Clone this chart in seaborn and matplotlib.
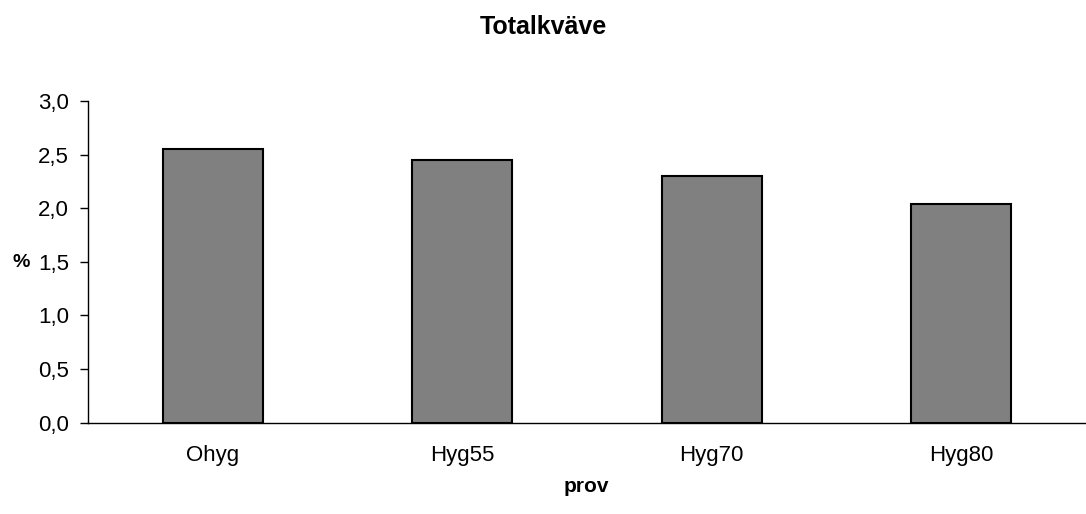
import matplotlib
matplotlib.use("Agg")
import matplotlib.pyplot as plt
import seaborn as sns
import pandas as pd
import numpy as np
from matplotlib.ticker import FuncFormatter, FixedLocator

sns.set_style("white")
plt.rcParams['font.family'] = ['Liberation Sans', 'DejaVu Sans']
plt.rcParams['text.color'] = 'black'
plt.rcParams['xtick.color'] = 'black'
plt.rcParams['ytick.color'] = 'black'

prov = ["Ohyg", "Hyg55", "Hyg70", "Hyg80"]
totalkvave = [2.55, 2.45, 2.30, 2.04]
y_ticks = [0.0, 0.5, 1.0, 1.5, 2.0, 2.5, 3.0]

df = pd.DataFrame({"prov": prov, "varde": totalkvave})

fig = plt.figure(figsize=(10.86, 5.14), dpi=100)
ax = fig.add_axes([0.081, 0.1776, 0.919, 0.626])

sns.barplot(data=df, x="prov", y="varde", ax=ax, color="#808080",
            saturation=1, width=0.4, edgecolor="black", linewidth=1.5)

ax.set_xlim(-0.5, len(prov) - 0.5)
ax.set_ylim(0, 3.0)
ax.set_yticks(y_ticks)
ax.yaxis.set_major_formatter(FuncFormatter(lambda v, p: f"{v:.1f}".replace(".", ",")))

# tick marks sit between the categories, labels at the category centres
ax.xaxis.set_minor_locator(FixedLocator(np.arange(-0.5, len(prov), 1.0)))
ax.tick_params(axis="x", which="major", length=0, labelsize=16, pad=16)
ax.tick_params(axis="x", which="minor", length=5.5, width=1, color="black", direction="out")
ax.tick_params(axis="y", which="major", length=5.5, width=1, color="black",
               direction="out", labelsize=16, left=True, pad=8)

for side in ["top", "right"]:
    ax.spines[side].set_visible(False)
for side in ["left", "bottom"]:
    ax.spines[side].set_color("black")
    ax.spines[side].set_linewidth(1)

ax.set_xlabel("")
ax.set_ylabel("")

fig.text(0.5, 1 - 34 / 514, "Totalkväve", ha="center", va="baseline",
         fontsize=18, fontweight="bold")
fig.text(0.54, 1 - 492 / 514, "prov", ha="center", va="baseline",
         fontsize=15, fontweight="bold")
fig.text(0.0195, 0.49, "%", ha="center", va="center", fontsize=14, fontweight="bold")

fig.savefig("out.png", dpi=100)
